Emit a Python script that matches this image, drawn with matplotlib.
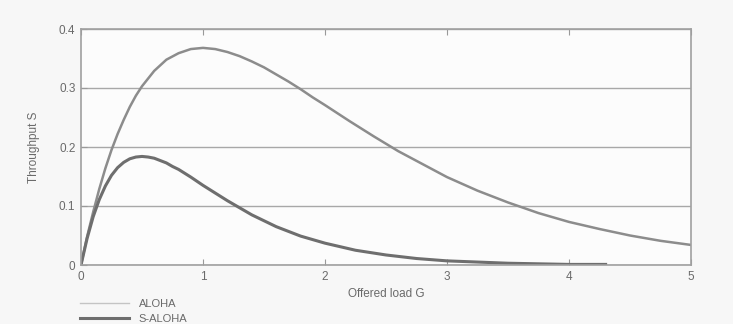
import matplotlib
matplotlib.use("Agg")
import matplotlib.pyplot as plt

# Values
g_upper = [0.0, 0.05, 0.1, 0.15, 0.2, 0.25, 0.3, 0.35, 0.4, 0.45, 0.5, 0.6, 0.7, 0.8, 0.9, 1.0,
           1.1, 1.2, 1.3, 1.4, 1.5, 1.6, 1.7, 1.8, 1.9, 2.0, 2.2, 2.4, 2.6, 2.8, 3.0, 3.25,
           3.5, 3.75, 4.0, 4.25, 4.5, 4.75, 5.0]
s_upper = [0.0, 0.048, 0.090, 0.129, 0.164, 0.195, 0.222, 0.246, 0.268, 0.287, 0.303, 0.329,
           0.348, 0.359, 0.366, 0.368, 0.366, 0.361, 0.354, 0.345, 0.335, 0.323, 0.311, 0.298,
           0.284, 0.271, 0.244, 0.218, 0.193, 0.171, 0.149, 0.126, 0.106, 0.088, 0.073,
           0.061, 0.050, 0.041, 0.034]

g_lower = [0.0, 0.05, 0.1, 0.15, 0.2, 0.25, 0.3, 0.35, 0.4, 0.45, 0.5, 0.55, 0.6, 0.65, 0.7,
           0.75, 0.8, 0.9, 1.0, 1.1, 1.2, 1.4, 1.6, 1.8, 2.0, 2.25, 2.5, 2.75, 3.0, 3.25,
           3.5, 3.75, 4.0, 4.3]
s_lower = [0.0, 0.045, 0.082, 0.111, 0.134, 0.152, 0.165, 0.174, 0.180, 0.183, 0.184, 0.183,
           0.181, 0.177, 0.173, 0.167, 0.162, 0.149, 0.135, 0.122, 0.109, 0.085, 0.065,
           0.049, 0.037, 0.025, 0.017, 0.011, 0.007, 0.005, 0.003, 0.002, 0.001, 0.001]

series_labels = ["ALOHA", "S-ALOHA"]
x_ticks = [0, 1, 2, 3, 4, 5]
y_ticks = [0, 0.1, 0.2, 0.3, 0.4]
y_tick_labels = ["0", "0.1", "0.2", "0.3", "0.4"]

plt.rcParams['font.family'] = ['Liberation Sans', 'DejaVu Sans']
txt = '#6a6a6a'

fig = plt.figure(figsize=(7.33, 3.24), dpi=100, facecolor='#f7f7f7')
ax = fig.add_axes([81/733, 1-265/324, 610/733, 236/324])
ax.set_facecolor('#fcfcfc')

l1, = ax.plot(g_upper, s_upper, color='#8c8c8c', lw=1.8, label=series_labels[0],
              solid_joinstyle='round')
l2, = ax.plot(g_lower, s_lower, color='#6e6e6e', lw=2.2, label=series_labels[1],
              solid_joinstyle='round')

ax.set_xlim(0, 5)
ax.set_ylim(0, 0.4)
ax.set_xticks(x_ticks)
ax.set_yticks(y_ticks)
ax.set_yticklabels(y_tick_labels)
ax.yaxis.grid(True, color='#a8a8a8', lw=1.0)
ax.set_axisbelow(True)
ax.tick_params(direction='in', length=4, color='#999999', labelcolor=txt, labelsize=8.5,
               top=True, right=False, pad=4)
for sp in ax.spines.values():
    sp.set_color('#a0a0a0')
    sp.set_linewidth(1.2)

ax.set_xlabel('Offered load G', color=txt, fontsize=8.5, labelpad=4)
ax.set_ylabel('Throughput S', color=txt, fontsize=8.5, labelpad=14)

leg = fig.legend(handles=[l1, l2], loc='upper left', bbox_to_anchor=(80/733, 1-299/324),
                 frameon=False, fontsize=8, handlelength=4.4, handletextpad=0.9,
                 labelspacing=0.45, borderpad=0, borderaxespad=0)
for t in leg.get_texts():
    t.set_color(txt)
leg.get_lines()[0].set_color('#c4c4c4')
leg.get_lines()[0].set_linewidth(1.0)

fig.savefig('out.png', dpi=100, facecolor=fig.get_facecolor())
